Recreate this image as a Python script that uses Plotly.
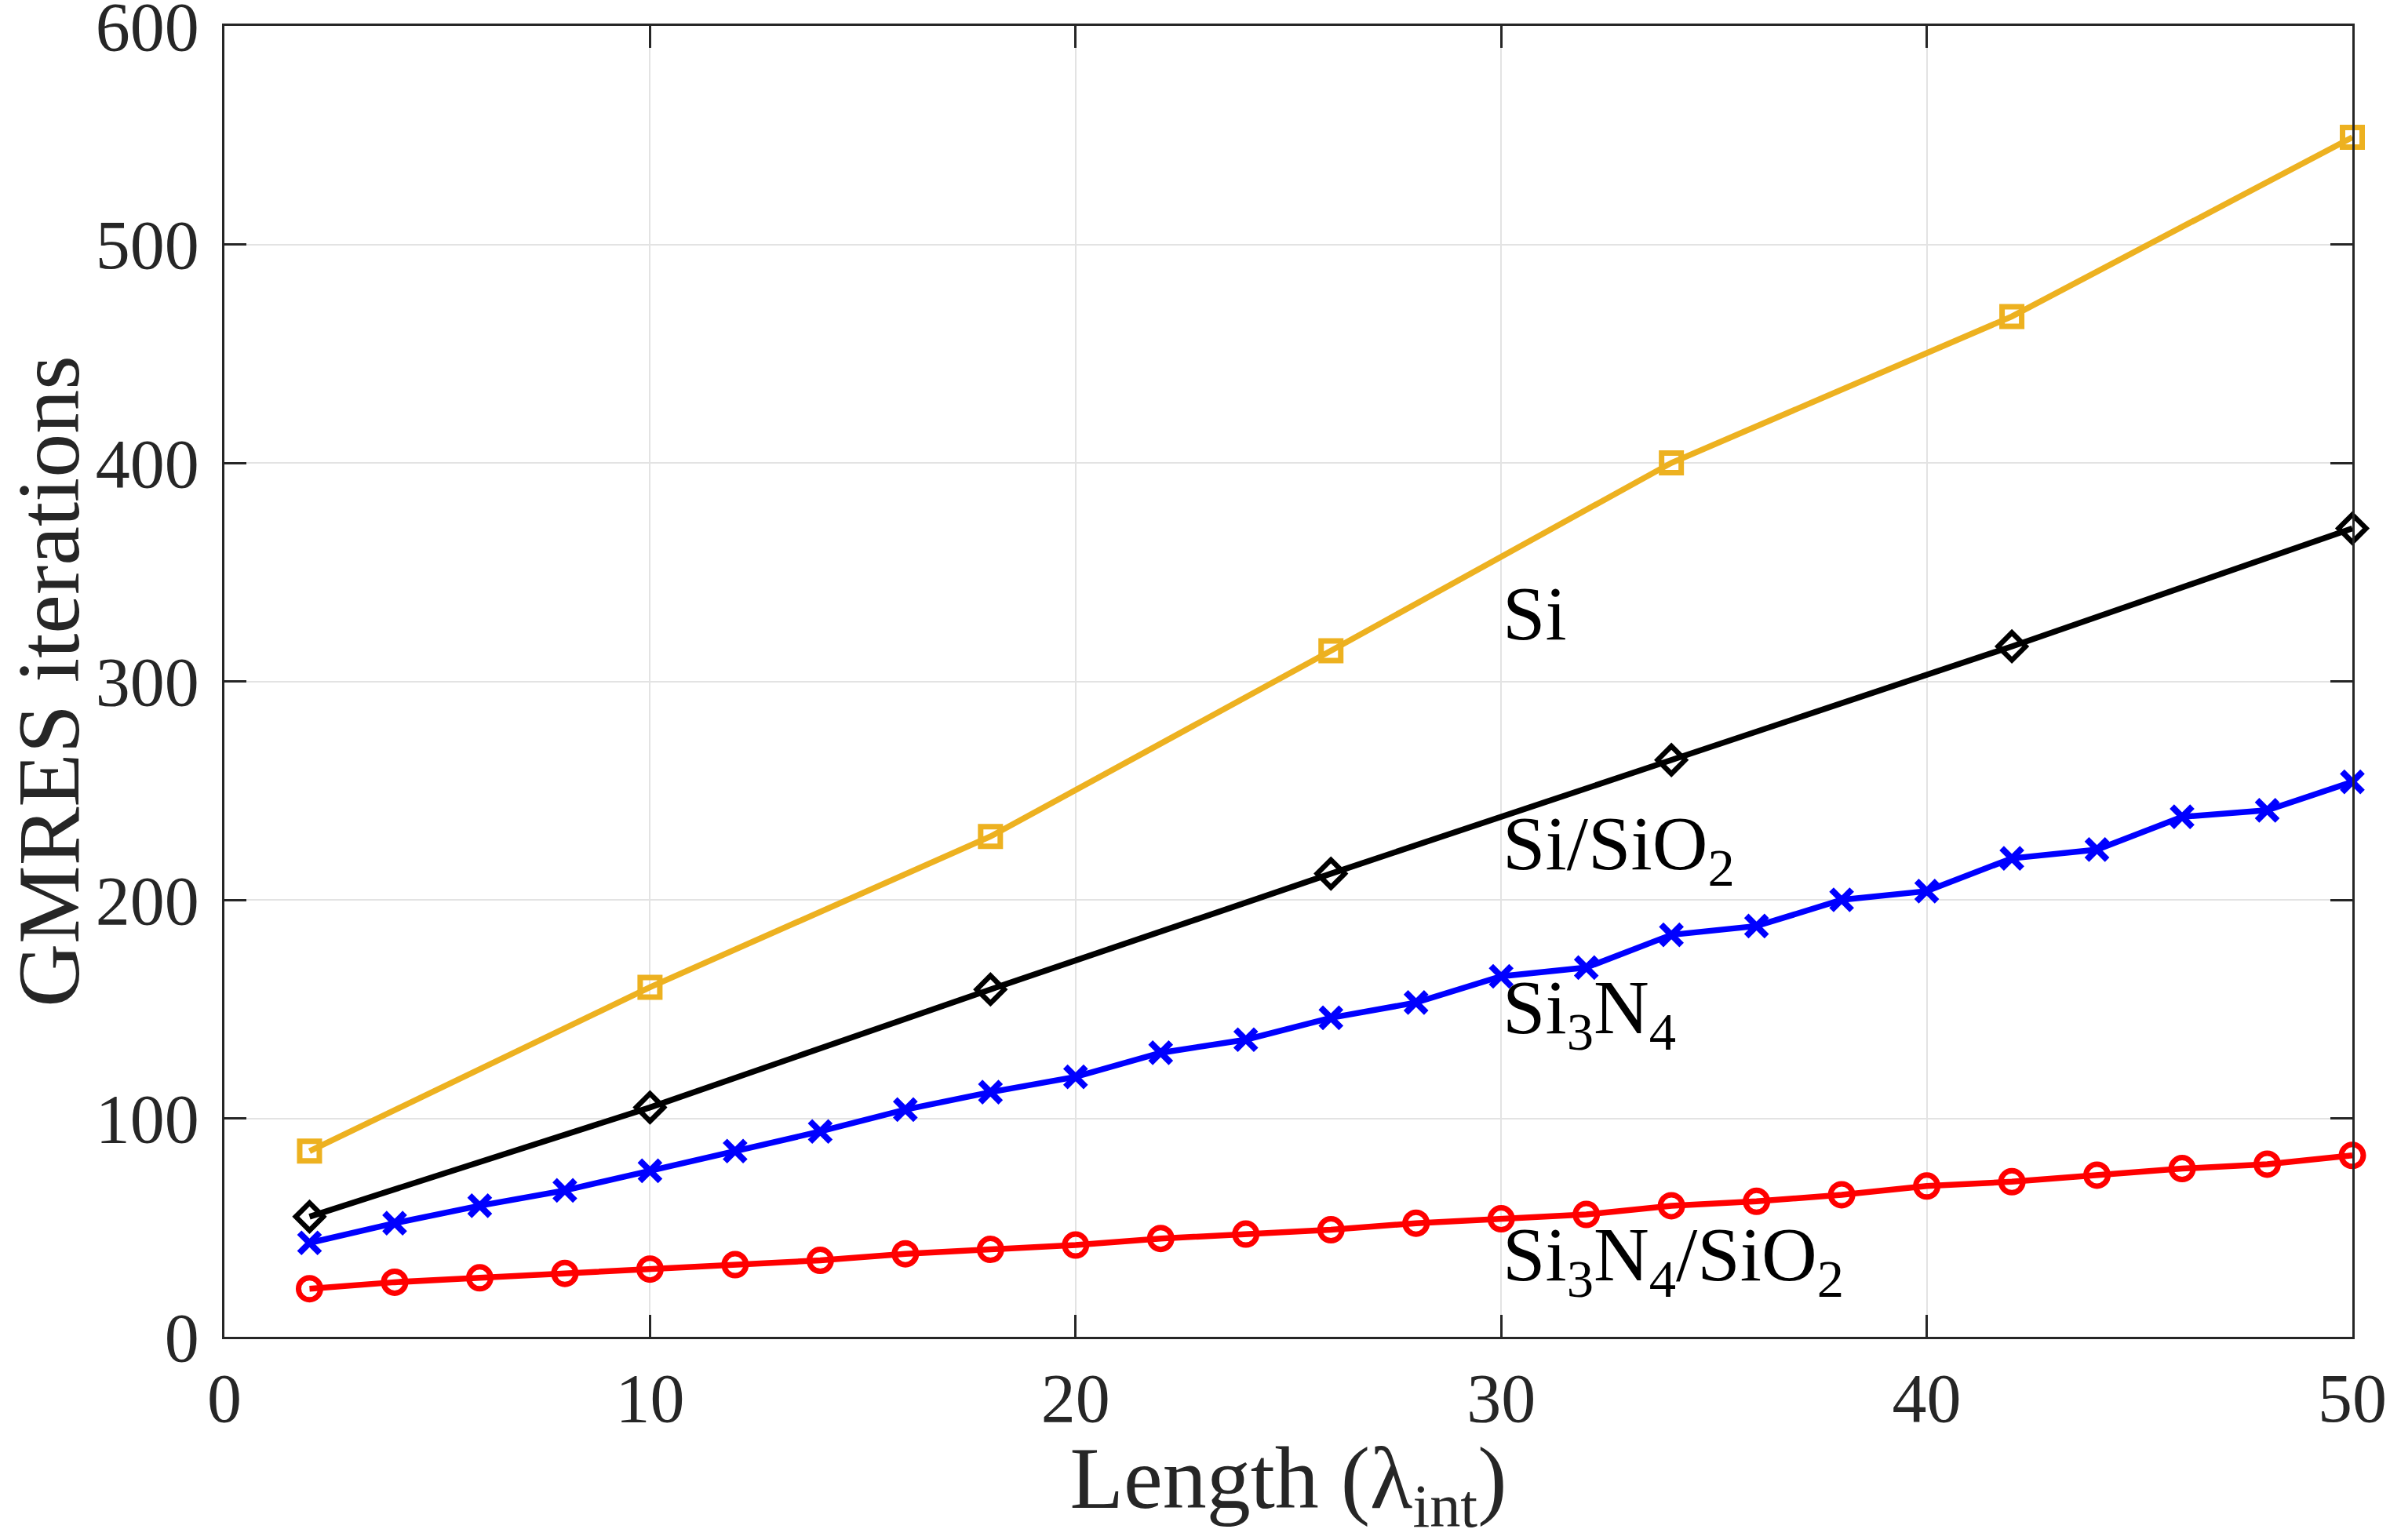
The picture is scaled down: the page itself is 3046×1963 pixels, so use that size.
import plotly.graph_objects as go

# Data
x_coarse = [2, 10, 18, 26, 34, 42, 50]
x_fine = [2, 4, 6, 8, 10, 12, 14, 16, 18, 20, 22, 24, 26, 28, 30, 32, 34, 36, 38, 40, 42, 44, 46, 48, 50]

si = [85, 160, 229, 314, 400, 467, 549]
si_sio2 = [55, 105, 159, 212, 264, 316, 370]
si3n4 = [43, 52, 60, 67, 76, 85, 94, 104, 112, 119, 130, 136, 146, 153, 165, 169,
         184, 188, 200, 204, 219, 223, 238, 241, 254]
si3n4_sio2 = [22, 25, 27, 29, 31, 33, 35, 38, 40, 42, 45, 47, 49, 52, 54, 56,
              60, 62, 65, 69, 71, 74, 77, 79, 83]

x_ticks = [0, 10, 20, 30, 40, 50]
y_ticks = [0, 100, 200, 300, 400, 500, 600]

labels = ["Si", "Si/SiO<sub>2</sub>", "Si<sub>3</sub>N<sub>4</sub>",
          "Si<sub>3</sub>N<sub>4</sub>/SiO<sub>2</sub>"]
label_x = [30, 30, 30, 30]
label_y = [331, 223, 148, 35]

FONT = "Liberation Serif"
AX = "#262626"

fig = go.Figure()

fig.add_trace(go.Scatter(
    x=x_coarse, y=si, mode="lines+markers",
    line=dict(color="#EDB120", width=7.5),
    marker=dict(symbol="square-open", size=25, color="#EDB120",
                line=dict(width=7, color="#EDB120")),
    cliponaxis=False, showlegend=False))

fig.add_trace(go.Scatter(
    x=x_coarse, y=si_sio2, mode="lines+markers",
    line=dict(color="black", width=7.5),
    marker=dict(symbol="diamond-open", size=27, color="black",
                line=dict(width=6.5, color="black")),
    cliponaxis=False, showlegend=False))

fig.add_trace(go.Scatter(
    x=x_fine, y=si3n4, mode="lines+markers",
    line=dict(color="#0000FF", width=7.5),
    marker=dict(symbol="x-thin-open", size=26, color="#0000FF",
                line=dict(width=8, color="#0000FF")),
    cliponaxis=False, showlegend=False))

fig.add_trace(go.Scatter(
    x=x_fine, y=si3n4_sio2, mode="lines+markers",
    line=dict(color="#FF0000", width=7.5),
    marker=dict(symbol="circle-open", size=28, color="#FF0000",
                line=dict(width=7, color="#FF0000")),
    cliponaxis=False, showlegend=False))

for t, lx, ly in zip(labels, label_x, label_y):
    fig.add_annotation(x=lx, y=ly, xref="x", yref="y", text=t, showarrow=False,
                       xanchor="left", yanchor="middle",
                       font=dict(family=FONT, size=98, color="black"))

fig.update_layout(
    width=3046, height=1963,
    margin=dict(l=286, r=48, t=33, b=259),
    paper_bgcolor="white", plot_bgcolor="white",
    font=dict(family=FONT, color=AX),
)

fig.update_xaxes(
    range=[0, 50], tickvals=x_ticks, ticktext=[str(v) for v in x_ticks],
    showgrid=True, gridcolor="#E3E3E3", gridwidth=2,
    showline=True, linecolor=AX, linewidth=2.5, mirror="ticks",
    ticks="inside", ticklen=28, tickwidth=2.5, tickcolor=AX,
    tickfont=dict(family=FONT, size=88, color=AX),
    ticklabeloverflow="allow", automargin=False,
    zeroline=False,
    title=dict(text="Length (λ<sub>int</sub>)", standoff=34,
               font=dict(family=FONT, size=112, color=AX)),
)
fig.update_yaxes(
    range=[0, 600], tickvals=y_ticks, ticktext=[str(v) for v in y_ticks],
    showgrid=True, gridcolor="#E3E3E3", gridwidth=2,
    showline=True, linecolor=AX, linewidth=2.5, mirror="ticks",
    ticks="inside", ticklen=28, tickwidth=2.5, tickcolor=AX,
    tickfont=dict(family=FONT, size=88, color=AX),
    ticklabelstandoff=12, ticklabeloverflow="allow", automargin=False,
    zeroline=False,
    title=dict(text="GMRES iterations", standoff=48,
               font=dict(family=FONT, size=112, color=AX)),
)

fig.write_html("out.html")
